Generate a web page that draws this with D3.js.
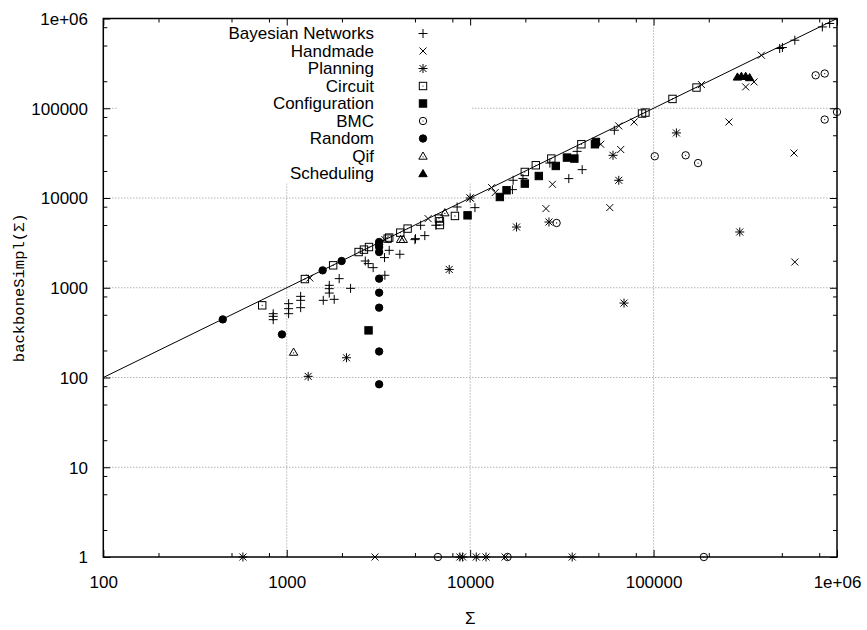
<!DOCTYPE html>
<html>
<head>
    <meta charset="utf-8">
    <title>backboneSimpl</title>
    <script src="https://cdn.jsdelivr.net/npm/d3@7"></script>
    <style>
        html, body { margin: 0; background-color: #fff; }
        svg text {
            font-family: "Liberation Sans", Arial, sans-serif;
            font-size: 17px;
            fill: #000;
        }
        svg .mono { font-family: "Liberation Mono", "DejaVu Sans Mono", monospace; font-size: 15.5px; }
        svg .grid line { stroke: #909090; stroke-width: 1; stroke-dasharray: 1,2; }
        svg .tick line { stroke: #000; }
        svg .mark { stroke: #000; stroke-width: 1; }
    </style>
</head>
<body>
<svg></svg>
<script>
// series names as in the key
var categories = ['Bayesian Networks', 'Handmade', 'Planning', 'Circuit', 'Configuration',
                  'BMC', 'Random', 'Qif', 'Scheduling'];
var markers = ['plus', 'cross', 'star', 'box', 'boxFill', 'circle', 'circleFill', 'tri', 'triFill'];

// [sigma, backboneSimpl(sigma)]
var bayesian = [[844,514],[844,480],[844,441],[1024,665],[1024,585],[1024,514],[1191,802],
    [1191,724],[1191,600],[1582,724],[1706,1064],[1706,977],[1706,873],[1815,743],[1932,1263],
    [2229,985],[2680,1986],[2782,1858],[2960,1675],[3412,2168],[3620,2612],[3428,1377],
    [4138,2360],[5000,3436],[5035,3525],[5660,3810],[5370,4966],[6500,4970],[8490,7940],
    [10620,7810],[17150,15750],[17000,12400],[19400,16500],[27200,24500],[34500,16450],
    [40800,20700],[38300,33100],[61100,56900],[487000,463000],[504000,475000],
    [589000,573000],[832000,805000],[912000,880000]];
var handmade = [[1337,1283],[3430,3436],[5900,5890],[10000,10000],[13090,13060],[13700,11500],
    [28100,14220],[25900,7620],[57700,7820],[51500,39700],[66200,34700],[64600,63500],
    [78300,70300],[182400,183600],[257600,70300],[317800,173000],[353000,196500],
    [387000,390000],[583000,31700],[589000,1935],[3027,1],[15500,1]];
var planning = [[1309,103],[2118,166],[7690,1600],[10000,10000],[17900,4750],[26900,5400],
    [60100,29900],[64600,15750],[69000,675],[133200,53100],[295000,4180],
    [577,1],[8790,1],[9100,1],[10800,1],[12200,1],[36000,1]];
var circuit = [[735,637],[1256,1250],[1791,1778],[2466,2500],[2636,2660],[2808,2843],
    [3550,3525],[3620,3620],[4160,4110],[4560,4560],[6840,5000],[6840,5500],[6760,5900],
    [8260,6310],[19860,19500],[22800,23170],[27700,27500],[40400,39700],[86500,87300],
    [90300,89500],[126800,127000],[171400,170100]];
var configuration = [[2793,335],[9680,6410],[14520,10260],[15790,12190],[19860,14470],
    [23680,17580],[29300,22750],[33700,28200],[37000,27500],[47900,39700],[48500,42100]];
var bmc = [[29600,5270],[101500,29200],[149600,29900],[174800,24500],[765000,233000],
    [857000,243600],[1000000,91000],[857000,74800],[6670,1],[16000,1],[188000,1]];
var random = [[448,444],[942,302],[1570,1563],[1992,1986],[3190,3236],[3190,3048],[3190,2843],
    [3190,2500],[3190,1263],[3190,881],[3190,600],[3190,195],[3190,84]];
var qif = [[1090,192],[4180,3467],[4318,3467],[7280,6870]];
var scheduling = [[286600,223400],[301200,227500],[317800,227500],[334000,220000]];

var xMajor = [100, 1000, 10000, 100000, 1000000];
var yMajor = [1, 10, 100, 1000, 10000, 100000, 1000000];
var minorSteps = [2, 5, 8];
var diagonal = [100, 1000000];

(function () {
    var w = 867, h = 630,
        left = 103.3, right = 837, top = 18.5, bottom = 557;

    var svg = d3.select('svg').attr('width', w).attr('height', h);

    var x = d3.scaleLog().domain([100, 1e6]).range([left, right]);
    var y = d3.scaleLog().domain([1, 1e6]).range([bottom, top]);

    function minors(major) {
        var out = [];
        major.slice(0, -1).forEach(function (m) {
            minorSteps.forEach(function (s) { out.push(m * s); });
        });
        return out;
    }

    function fmt(v) { return v === 1e6 ? '1e+06' : String(v); }

    // grid
    var grid = svg.append('g').attr('class', 'grid');
    grid.selectAll('.gx').data(xMajor.slice(1, -1)).enter().append('line')
        .attr('x1', x).attr('x2', x).attr('y1', top).attr('y2', bottom);
    grid.selectAll('.gy').data(yMajor.slice(1, -1)).enter().append('line')
        .attr('y1', y).attr('y2', y).attr('x1', left).attr('x2', right);

    // opaque key box hides the grid behind it
    svg.append('rect')
        .attr('x', 118).attr('y', top).attr('width', 354).attr('height', 165)
        .style('fill', '#fff');

    // y = x reference line
    svg.append('path')
        .datum(diagonal)
        .attr('d', d3.line().x(function (d) { return x(d); }).y(function (d) { return y(d); }))
        .style('fill', 'none').style('stroke', '#000').style('stroke-width', 1);

    // marker shapes
    function marker(g, type) {
        var s = 3.7;
        var cross = 'M-3.5,-3.5L3.5,3.5M-3.5,3.5L3.5,-3.5',
            plus = 'M-4.5,0H4.5M0,-4.5V4.5',
            tri = 'M0,-4L4.2,3.2L-4.2,3.2Z';
        if (type === 'plus') g.append('path').attr('d', plus);
        else if (type === 'cross') g.append('path').attr('d', cross);
        else if (type === 'star') g.append('path').attr('d', plus + cross);
        else if (type === 'box' || type === 'boxFill') {
            g.append('rect').attr('x', -s).attr('y', -s).attr('width', 2 * s).attr('height', 2 * s)
                .style('fill', type === 'boxFill' ? '#000' : 'none');
        } else if (type === 'circle' || type === 'circleFill') {
            g.append('circle').attr('r', s)
                .style('fill', type === 'circleFill' ? '#000' : 'none');
        } else if (type === 'tri' || type === 'triFill') {
            g.append('path').attr('d', tri)
                .style('fill', type === 'triFill' ? '#000' : 'none');
        }
        if (type === 'box' || type === 'circle' || type === 'tri') {
            g.append('circle').attr('r', 0.6).attr('cy', type === 'tri' ? 0.8 : 0)
                .style('fill', '#000').style('stroke', 'none');
        }
        g.selectAll('path, rect, circle').filter(function () { return !this.style.fill; })
            .style('fill', 'none');
    }

    var series = [bayesian, handmade, planning, circuit, configuration, bmc, random, qif, scheduling];

    var pts = svg.append('g').attr('class', 'points');
    series.forEach(function (data, i) {
        pts.selectAll('.s' + i).data(data).enter().append('g')
            .attr('class', 'mark s' + i)
            .attr('transform', function (d) { return 'translate(' + x(d[0]) + ',' + y(d[1]) + ')'; })
            .each(function () { marker(d3.select(this), markers[i]); });
    });

    // key
    var key = svg.append('g').attr('class', 'key');
    categories.forEach(function (name, i) {
        var ky = 33.5 + i * 17.5;
        key.append('text').attr('x', 374).attr('y', ky).attr('dy', '0.35em')
            .attr('text-anchor', 'end').text(name);
        var g = key.append('g').attr('class', 'mark')
            .attr('transform', 'translate(423,' + ky + ')');
        marker(g, markers[i]);
    });

    // axes: ticks pointing inward on all four sides
    function axis(gen, tx, ty, vals, size, labels) {
        var g = svg.append('g').attr('transform', 'translate(' + tx + ',' + ty + ')')
            .call(gen.tickValues(vals).tickSize(-size).tickFormat(labels ? fmt : ''));
        g.select('.domain').remove();
        g.attr('font-family', null).attr('font-size', null);
        return g;
    }

    var xb = axis(d3.axisBottom(x), 0, bottom, xMajor, 7, true);
    xb.selectAll('text').attr('y', 25).attr('dy', '0.35em');
    axis(d3.axisBottom(x), 0, bottom, minors(xMajor), 4, false);
    axis(d3.axisTop(x), 0, top, xMajor, 7, false);
    axis(d3.axisTop(x), 0, top, minors(xMajor), 4, false);

    var yl = axis(d3.axisLeft(y), left, 0, yMajor, 7, true);
    yl.selectAll('text').attr('x', 88 - left).attr('dy', '0.35em');
    axis(d3.axisLeft(y), left, 0, minors(yMajor), 4, false);
    axis(d3.axisRight(y), right, 0, yMajor, 7, false);
    axis(d3.axisRight(y), right, 0, minors(yMajor), 4, false);

    svg.selectAll('.tick text').filter(function () { return this.textContent === ''; }).remove();

    // border
    svg.append('rect')
        .attr('x', left).attr('y', top).attr('width', right - left).attr('height', bottom - top)
        .style('fill', 'none').style('stroke', '#000').style('stroke-width', 1.5);

    // axis titles
    svg.append('text').attr('x', (left + right) / 2).attr('y', 618).attr('dy', '0.35em')
        .attr('text-anchor', 'middle').text('\u03a3');
    svg.append('text').attr('class', 'mono')
        .attr('transform', 'translate(19,' + ((top + bottom) / 2) + ')rotate(-90)')
        .attr('dy', '0.35em').attr('text-anchor', 'middle')
        .text('backboneSimpl(\u03a3)');
})();
</script>
</body>
</html>
